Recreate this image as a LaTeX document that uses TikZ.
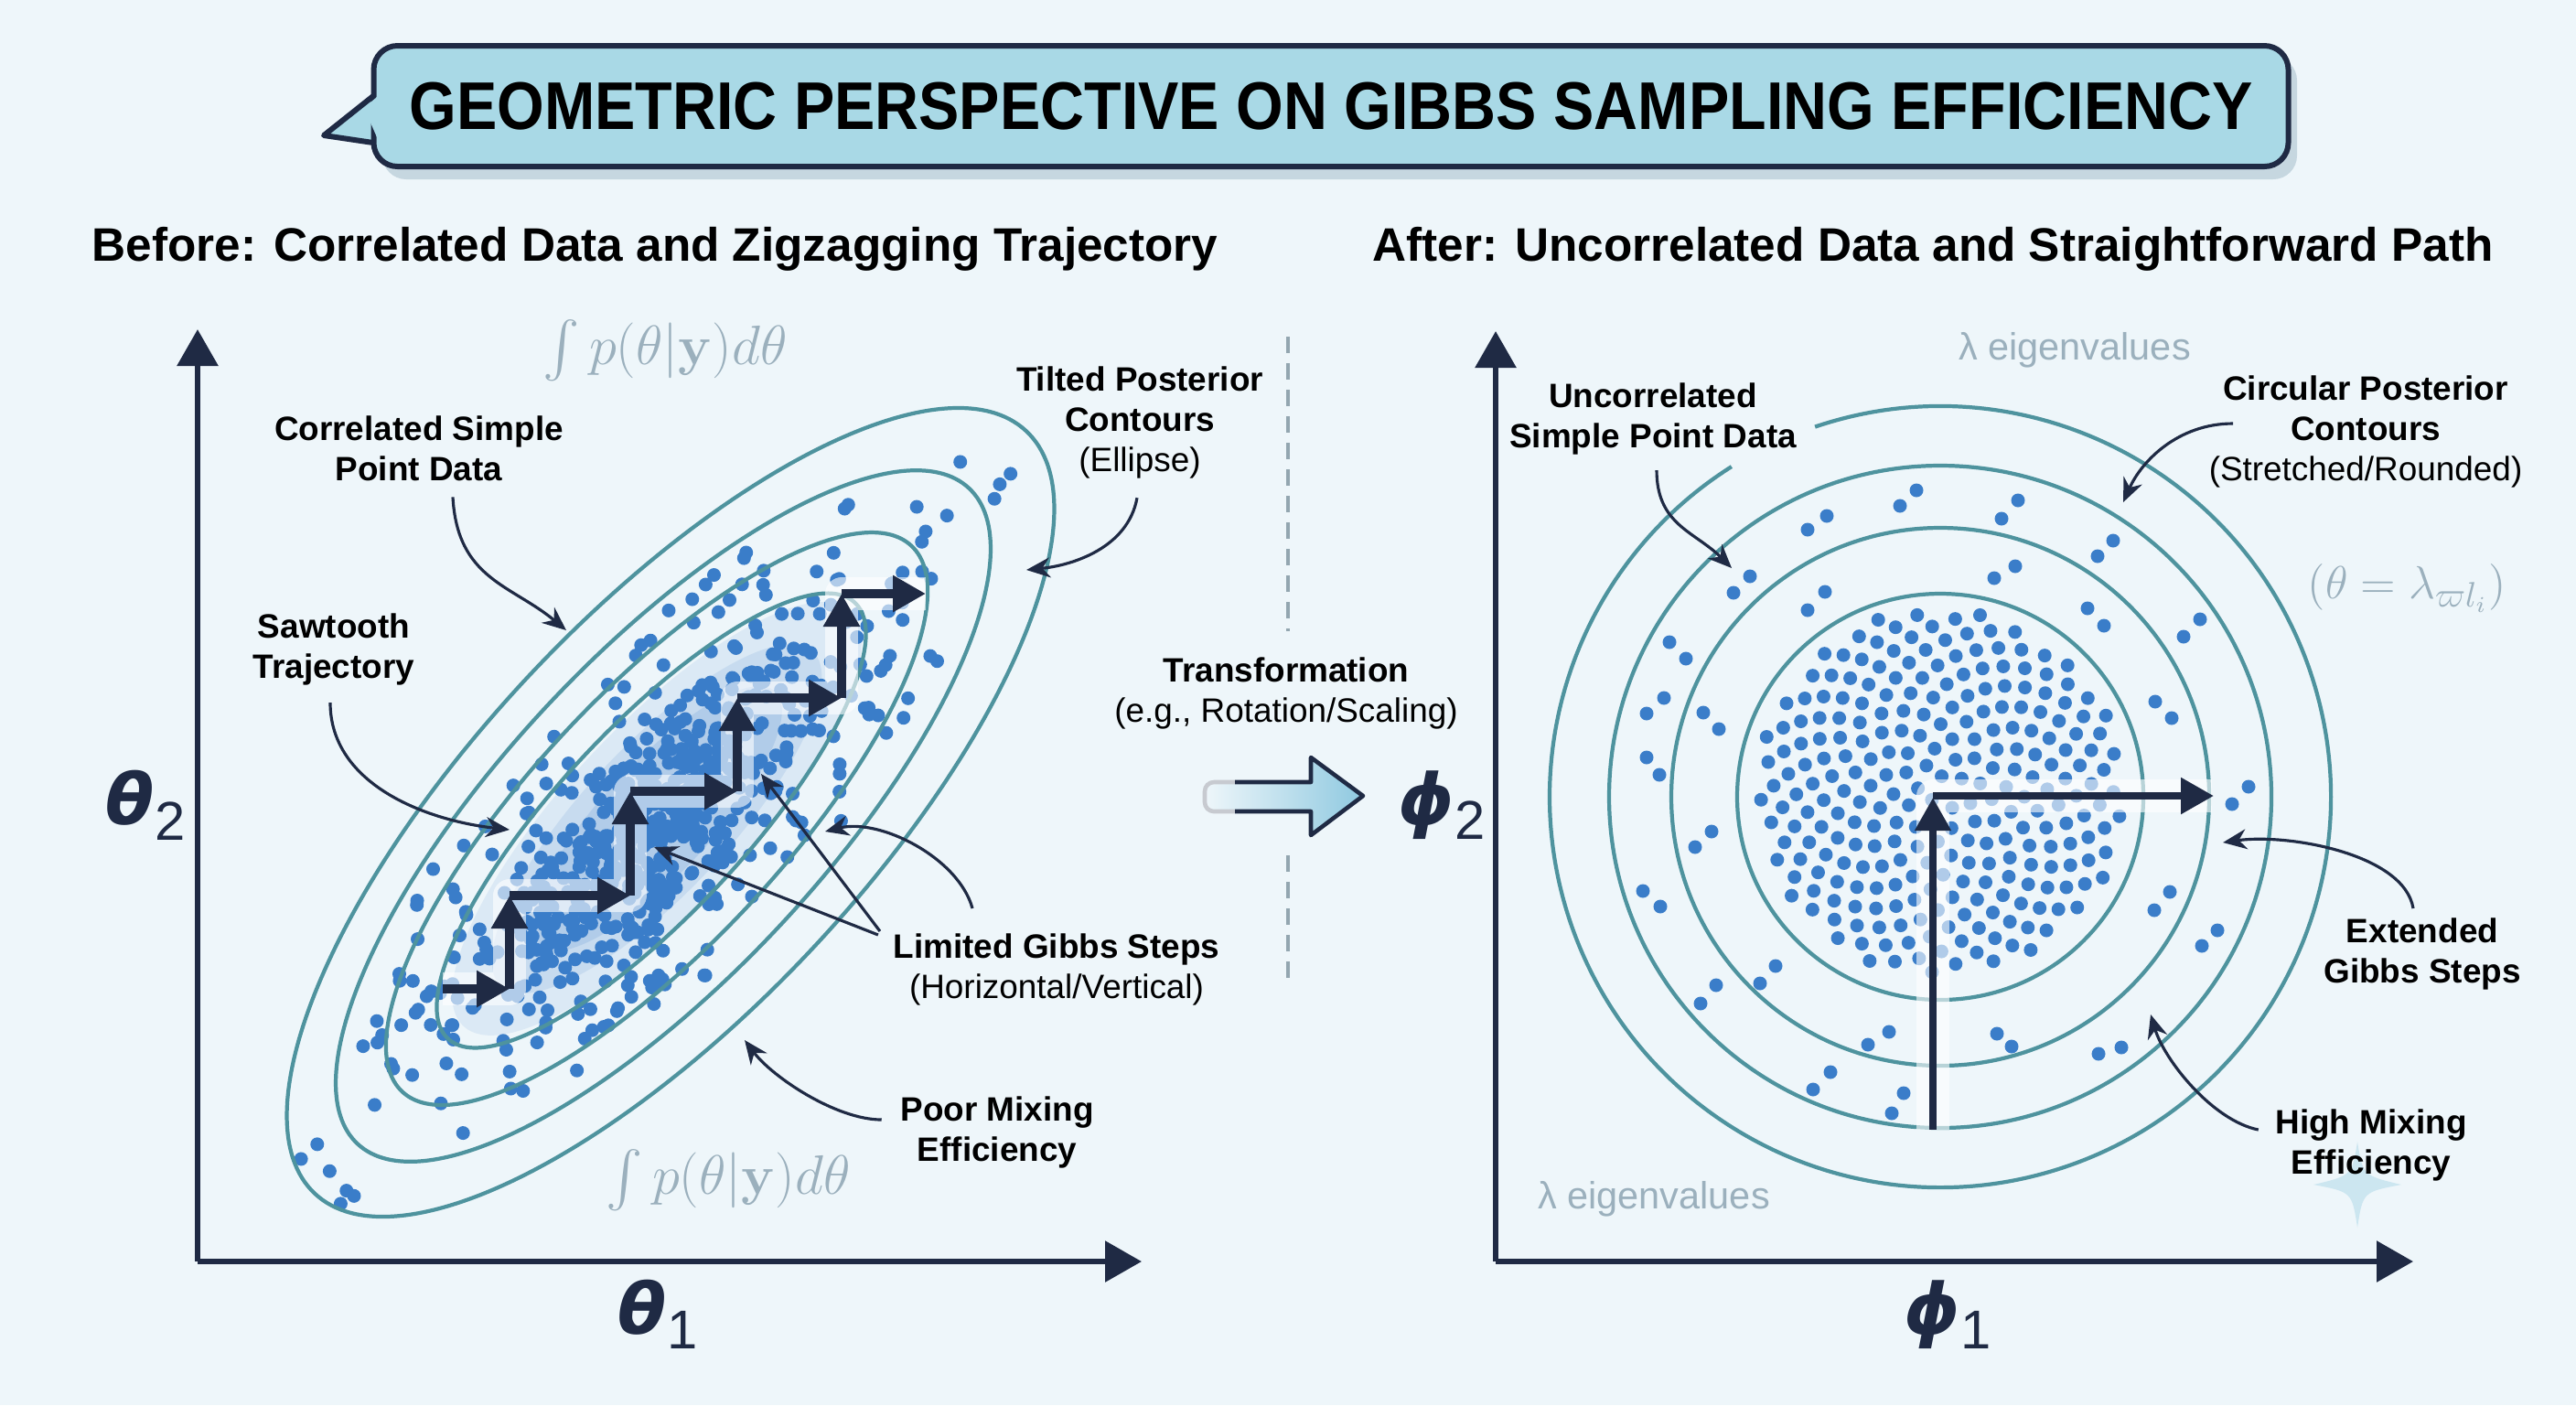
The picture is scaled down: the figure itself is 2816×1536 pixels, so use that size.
\documentclass[tikz,border=0pt]{standalone}
\usepackage[no-math]{fontspec}
\setmainfont{Liberation Sans}
\newfontfamily\titlefont[FakeStretch=0.9]{Liberation Sans}
\newfontfamily\greekfont{DejaVu Sans}
\usepackage{amsmath}
\usetikzlibrary{arrows.meta}
\definecolor{bgcol}{HTML}{EEF6FA}
\definecolor{inkcol}{HTML}{1F2A44}
\definecolor{contourcol}{HTML}{4E939E}
\definecolor{dotblue}{HTML}{3A7DC9}
\definecolor{bannercol}{HTML}{A9D9E6}
\definecolor{shadowcol}{HTML}{C6D7E0}
\definecolor{ghostcol}{HTML}{9BB0BD}
\definecolor{arrowcol}{HTML}{8FC9E0}
\definecolor{dividercol}{HTML}{93A6B0}
\begin{document}
\begin{tikzpicture}[x=0.1mm,y=-0.1mm,
    axisline/.style={line width=1.7pt, draw=inkcol, -{Triangle[length=4mm,width=4.4mm]}},
    contourline/.style={line width=1.2pt, draw=contourcol},
    sampledot/.style={fill=dotblue},
    gibbsstep/.style={line width=2.6pt, draw=inkcol, -{Triangle[length=3.6mm,width=3.8mm]}},
    stepglow/.style={line width=10pt, draw=white, opacity=0.6, line join=round},
    callout/.style={line width=0.9pt, draw=inkcol, -{Stealth[length=2.6mm,width=2.2mm]}},
    calloutlabel/.style={align=center, inner sep=0pt, text=black, font=\bfseries\fontsize{10.5}{12.6}\selectfont},
    headline/.style={anchor=base, inner sep=0pt, text=black, font=\bfseries\fontsize{14.6}{17}\selectfont},
    ghosttext/.style={inner sep=0pt, text=ghostcol},
    axislabel/.style={inner sep=0pt, text=inkcol, font=\greekfont\bfseries\itshape\fontsize{22}{22}\selectfont},
    dividerline/.style={line width=1pt, draw=dividercol, dash pattern=on 1.8mm off 1.1mm}]

  % Background
  \useasboundingbox (0,0) rectangle (2816,1536);
  \fill[bgcol] (0,0) rectangle (2816,1536);

  % Title banner
  \fill[shadowcol, rounded corners=2.6mm] (418,62) rectangle (2511,196);
  \fill[bannercol] (412,103) -- (354,148) -- (412,157) -- cycle;
  \draw[inkcol, line width=1.7pt, line join=round] (408,105) -- (354,148) -- (408,156);
  \node[draw=inkcol, line width=1.7pt, fill=bannercol, rounded corners=2.6mm,
        minimum width=209.3mm, minimum height=13.2mm, inner sep=0pt, text=black,
        font=\titlefont\bfseries\fontsize{21}{24}\selectfont]
    (banner) at (1455,116) {GEOMETRIC PERSPECTIVE ON GIBBS SAMPLING EFFICIENCY};
  \fill[bannercol] (412,106) -- (398,118) -- (412,150) -- cycle;

  % Panel headings
  \node[headline] (beforehead) at (716,285) {Before: Correlated Data and Zigzagging Trajectory};
  \node[headline] (afterhead) at (2113,285) {After: Uncorrelated Data and Straightforward Path};

  %%%%%%%%%%%%%%%% left panel %%%%%%%%%%%%%%%%
  % Draw the axes
  \coordinate (origL) at (216,1379);
  \draw[axisline] (origL) -- (216,360);
  \draw[axisline] (origL) -- (1248,1379);
  \node[axislabel] (thetatwo) at (160,880) {θ\textsubscript{\normalfont\fontsize{17}{17}\selectfont 2}};
  \node[axislabel] (thetaone) at (720,1437) {θ\textsubscript{\normalfont\fontsize{17}{17}\selectfont 1}};

  % Correlated samples
  \pgfmathsetseed{11}
  \begin{scope}[shift={(718,895)}, rotate=47]
    \foreach \a/\b/\o in {310/100/0.10, 250/80/0.12, 190/60/0.15}
      \fill[dotblue, opacity=\o] (0,0) ellipse [x radius=\a, y radius=\b];
    \foreach \i in {1,...,260}{
      \pgfmathsetmacro\ang{360*rnd}
      \pgfmathsetmacro\rho{sqrt(rnd)}
      \fill[sampledot] ({460*\rho*cos(\ang)},{160*\rho*sin(\ang)}) circle [radius=7.5];
    }
    \foreach \i in {1,...,440}{
      \pgfmathsetmacro\su{(rand+rand+rand)*115}
      \pgfmathsetmacro\sv{(rand+rand+rand)*40}
      \fill[sampledot] (\su,\sv) circle [radius=7.5];
    }
    \foreach \i in {1,...,10}{
      \pgfmathsetmacro\su{(505+40*rnd)*(2*(rnd>0.5)-1)}
      \pgfmathsetmacro\sv{(rnd-0.5)*90}
      \fill[sampledot] (\su,\sv) circle [radius=7.5];
    }
  \end{scope}
  % Tilted contours
  \foreach \cx/\cy/\a/\b in {733/888/570/215, 725/892/490/175, 718/895/408/138, 712/897/326/102}
    \draw[contourline, rotate around={47:(\cx,\cy)}] (\cx,\cy) ellipse [x radius=\a, y radius=\b];

  % Zigzag Gibbs steps
  \draw[stepglow] (484,1081) -- (557,1081) -- (557,979) -- (689,979) -- (689,865)
    -- (806,865) -- (806,763) -- (920,763) -- (920,649) -- (1012,649);
  \foreach \xa/\ya/\xb/\yb in {484/1081/557/1081, 557/1081/557/979, 557/979/689/979,
      689/979/689/865, 689/865/806/865, 806/865/806/763, 806/763/920/763,
      920/763/920/649, 920/649/1012/649}
    \draw[gibbsstep] (\xa,\ya) -- (\xb,\yb);

  % Faint formulas
  \node[ghosttext, font=\fontsize{17}{20}\selectfont] (integtop) at (727,383) {$\int p(\theta|\mathbf{y})d\theta$};
  \node[ghosttext, font=\fontsize{16}{20}\selectfont] (integbot) at (796,1290) {$\int p(\theta|\mathbf{y})d\theta$};

  % Callouts
  \node[calloutlabel] (corrlbl) at (458,490) {Correlated Simple\\Point Data};
  \node[calloutlabel] (tiltlbl) at (1246,462) {Tilted Posterior\\Contours\\\normalfont(Ellipse)};
  \node[calloutlabel] (sawlbl) at (365,710) {Sawtooth\\Trajectory};
  \node[calloutlabel] (limlbl) at (1155,1060) {Limited Gibbs Steps\\\normalfont(Horizontal/Vertical)};
  \node[calloutlabel] (poorlbl) at (1090,1238) {Poor Mixing\\Efficiency};
  \coordinate (corrtip) at (619,689);
  \coordinate (tilttip) at (1122,623);
  \coordinate (sawtip) at (557,907);
  \coordinate (limtipa) at (715,926);
  \coordinate (limtipb) at (832,846);
  \coordinate (limtipc) at (902,909);
  \coordinate (poortip) at (814,1137);
  \draw[callout] ([xshift=3.7mm,yshift=-1.7mm]corrlbl.south) .. controls +(5,90) and +(-60,-50) .. (corrtip);
  \draw[callout] ([xshift=-0.3mm,yshift=-2mm]tiltlbl.south) .. controls +(-10,55) and +(50,-5) .. (tilttip);
  \draw[callout] ([xshift=-0.4mm,yshift=-1.8mm]sawlbl.south) .. controls +(0,90) and +(-90,-10) .. (sawtip);
  \draw[callout] ([xshift=-1.6mm,yshift=-0.2mm]limlbl.north west) -- (limtipa);
  \draw[callout] ([xshift=-1.4mm,yshift=0.2mm]limlbl.north west) -- (limtipb);
  \draw[callout] ([xshift=-9.2mm,yshift=2.7mm]limlbl.north) .. controls +(-15,-55) and +(60,-15) .. (limtipc);
  \draw[callout] ([xshift=-2mm,yshift=1.4mm]poorlbl.west) .. controls +(-50,0) and +(30,40) .. (poortip);

  % Divider and transformation arrow
  \draw[dividerline] (1408,368) -- (1408,690);
  \draw[dividerline] (1408,935) -- (1408,1078);
  \node[calloutlabel] (translbl) at (1406,758) {Transformation\\\normalfont(e.g., Rotation/Scaling)};
  \shade[left color=bgcol, right color=arrowcol] (1317,855) -- (1433,855) -- (1433,828) -- (1490,870)
    -- (1433,913) -- (1433,887) -- (1317,887) -- cycle;
  \draw[inkcol!25, line width=1.3pt, rounded corners=1mm] (1350,855) -- (1317,855) -- (1317,887) -- (1350,887);
  \draw[inkcol, line width=1.3pt, line join=round] (1350,855) -- (1433,855) -- (1433,828) -- (1490,870)
    -- (1433,913) -- (1433,887) -- (1350,887);

  %%%%%%%%%%%%%%%% right panel %%%%%%%%%%%%%%%%
  % Draw the axes
  \coordinate (origR) at (1635,1379);
  \draw[axisline] (origR) -- (1635,362);
  \draw[axisline] (origR) -- (2638,1379);
  \node[axislabel] (phitwo) at (1577,880) {ϕ\textsubscript{\normalfont\fontsize{17}{17}\selectfont 2}};
  \node[axislabel] (phione) at (2130,1437) {ϕ\textsubscript{\normalfont\fontsize{17}{17}\selectfont 1}};

  % Circular contours
  \foreach \r in {362,294,222}
    \draw[contourline] (2121,871) circle [radius=\r];
  \draw[contourline] (2121,871) ++(-108.7:427) arc [start angle=-108.7, end angle=237.7, radius=427];

  % Uncorrelated samples
  \foreach \k in {1,...,262}{
    \pgfmathsetmacro\rr{12.4*sqrt(\k)}
    \pgfmathsetmacro\tt{360*mod(0.381966*\k,1)}
    \fill[sampledot] (2121,866) ++(\tt:\rr) circle [radius=7.5];
  }
  \foreach \x/\y in {1976/579, 1997/564, 2077/553, 2095/536, 2188/567, 2206/547, 2293/608, 2310/591,
      1895/648, 1913/630, 1976/667, 1995/647, 2180/632, 2203/619, 2282/665, 2300/684,
      2387/696, 2405/677, 1825/702, 1843/720, 1800/780, 1819/763, 1862/779, 1879/797,
      1800/828, 1814/847, 2356/767, 2374/785, 2440/879, 2458/860, 1853/926, 1871/909,
      1796/974, 1815/991, 2355/995, 2372/975, 2407/1034, 2424/1017, 1859/1097, 1876/1077,
      1924/1075, 1941/1056, 2042/1142, 2065/1128, 2183/1130, 2199/1144, 2294/1152, 2319/1145,
      1982/1191, 2001/1172, 2068/1217, 2081/1195}
    \fill[sampledot] (\x,\y) circle [radius=7.5];

  % Straight Gibbs steps
  \draw[stepglow] (2113,1235) -- (2113,870) -- (2418,870);
  \draw[gibbsstep, line width=2.2pt] (2113,1235) -- (2113,872);
  \draw[gibbsstep, line width=2.4pt] (2113,870) -- (2420,870);

  % Faint labels
  \node[ghosttext, font=\fontsize{11.8}{14}\selectfont] (eigtop) at (2268,383) {λ eigenvalues};
  \node[ghosttext, font=\fontsize{11.8}{14}\selectfont] (eigbot) at (1808,1311) {λ eigenvalues};
  \node[ghosttext, font=\fontsize{15}{18}\selectfont] (lambdaeq) at (2631,643) {$(\theta = \lambda_{\varpi l_i})$};
  \fill[arrowcol, opacity=0.35] (2577,1248) .. controls (2583,1285) .. (2625,1295)
    .. controls (2583,1303) .. (2577,1342) .. controls (2571,1303) .. (2529,1295)
    .. controls (2571,1285) .. (2577,1248) -- cycle;

  % Callouts
  \node[calloutlabel] (uncorrlbl) at (1807,458) {Uncorrelated\\Simple Point Data};
  \node[calloutlabel] (circlbl) at (2586,472) {Circular Posterior\\Contours\\\normalfont(Stretched/Rounded)};
  \node[calloutlabel] (extlbl) at (2648,1043) {Extended\\Gibbs Steps};
  \node[calloutlabel] (highlbl) at (2592,1252) {High Mixing\\Efficiency};
  \coordinate (uncorrtip) at (1893,621);
  \coordinate (circtip) at (2321,549);
  \coordinate (exttip) at (2430,921);
  \coordinate (hightip) at (2351,1109);
  \draw[callout] ([xshift=0.4mm,yshift=-1.6mm]uncorrlbl.south) .. controls +(0,60) and +(-40,-40) .. (uncorrtip);
  \draw[callout] ([xshift=-14.5mm,yshift=0.9mm]circlbl.center) .. controls +(-60,0) and +(20,-45) .. (circtip);
  \draw[callout] ([xshift=-1mm,yshift=1mm]extlbl.north) .. controls +(-10,-60) and +(70,-10) .. (exttip);
  \draw[callout] ([xshift=-1.8mm,yshift=1.7mm]highlbl.west) .. controls +(-50,-10) and +(15,50) .. (hightip);
\end{tikzpicture}
\end{document}
